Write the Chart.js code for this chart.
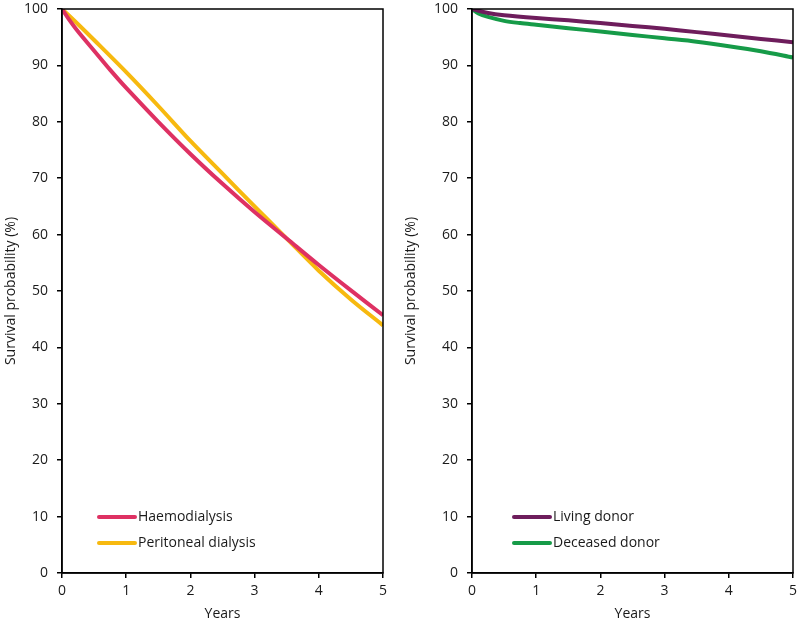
<!DOCTYPE html>
<html>
<head>
<meta charset="utf-8">
<script src="https://cdn.jsdelivr.net/npm/chart.js@4"></script>
<style>
html,body{margin:0;padding:0;background:#fff;}
#wrap{position:relative;width:799px;height:628px;}
.box{position:absolute;top:0;height:628px;}
</style>
</head>
<body>
<div id="wrap">
  <div class="box" style="left:0;width:400px;"><canvas id="c1"></canvas></div>
  <div class="box" style="left:400px;width:399px;"><canvas id="c2"></canvas></div>
</div>
<script>
// Years (x values)
const yearsHD = [0, 0.1, 0.25, 0.5, 0.75, 1, 1.5, 2, 2.5, 3, 3.5, 4, 4.5, 5];
const haemodialysis = [100, 98.3, 96.0, 92.6, 89.2, 86.0, 80.0, 74.3, 69.0, 64.0, 59.3, 54.6, 50.1, 45.7];
const yearsPD = [0, 0.25, 0.5, 1, 1.5, 2, 2.5, 3, 3.5, 4, 4.5, 5];
const peritoneal = [100, 97.3, 94.5, 88.8, 82.8, 76.6, 70.8, 65.0, 59.3, 53.6, 48.5, 43.9];

const yearsLD = [0, 0.25, 0.5, 1, 1.5, 2, 2.5, 3, 3.5, 4, 4.5, 5];
const livingDonor = [100, 99.3, 98.9, 98.4, 98.0, 97.5, 97.0, 96.5, 95.9, 95.3, 94.7, 94.1];
const yearsDD = [0, 0.1, 0.25, 0.5, 0.75, 1, 1.5, 2, 2.5, 3, 3.5, 4, 4.5, 5];
const deceasedDonor = [100, 99.2, 98.6, 97.9, 97.5, 97.2, 96.6, 96.0, 95.4, 94.8, 94.2, 93.4, 92.5, 91.4];

const xTicks = [0, 1, 2, 3, 4, 5];
const yTicks = [0, 10, 20, 30, 40, 50, 60, 70, 80, 90, 100];
const xTitle = 'Years';
const yTitle = 'Survival probability (%)';

const FONT = 'Open Sans';
const TXT = '#1a1a1a';

function pts(xs, ys){ return xs.map((x,i)=>({x:x,y:ys[i]})); }

const framePlugin = {
  id:'frame',
  afterDraw(chart){
    const a = chart.chartArea, ctx = chart.ctx;
    ctx.save();
    ctx.strokeStyle = '#000';
    ctx.lineWidth = 1.5;
    ctx.strokeRect(a.left, a.top, a.right-a.left, a.bottom-a.top);
    ctx.restore();
  }
};

const legendPlugin = {
  id:'inlegend',
  afterDatasetsDraw(chart, args, opts){
    const ctx = chart.ctx;
    ctx.save();
    ctx.font = '14px "' + FONT + '"';
    ctx.textBaseline = 'middle';
    chart.data.datasets.forEach((ds,i)=>{
      const y = opts.y + i*opts.gap;
      ctx.strokeStyle = ds.borderColor;
      ctx.lineWidth = 4;
      ctx.lineCap = 'round';
      ctx.beginPath();
      ctx.moveTo(opts.x, y);
      ctx.lineTo(opts.x + 36, y);
      ctx.stroke();
      ctx.fillStyle = TXT;
      ctx.fillText(ds.label, opts.x + 39, y);
    });
    ctx.restore();
  }
};

function makeChart(id, datasets, yAxisWidth, padRight, legendX){
  return new Chart(document.getElementById(id), {
    type:'line',
    data:{ datasets: datasets },
    options:{
      responsive:true,
      maintainAspectRatio:false,
      animation:false,
      layout:{ padding:{ left:0, top:9, right:padRight, bottom:0 } },
      elements:{ point:{ radius:0 }, line:{ borderWidth:4, tension:0.3, borderCapStyle:'butt' } },
      plugins:{
        legend:{ display:false },
        tooltip:{ enabled:false },
        inlegend:{ x:legendX, y:517, gap:26 }
      },
      scales:{
        x:{
          type:'linear', min:0, max:5,
          afterBuildTicks(s){ s.ticks = xTicks.map(v=>({value:v})); },
          afterFit(s){ s.height = 55; s.paddingLeft = 0; s.paddingRight = 0; },
          grid:{ display:true, drawOnChartArea:false, drawTicks:true, tickLength:5, color:'#000', lineWidth:1.5 },
          border:{ display:true, color:'#000', width:1.5 },
          ticks:{ color:TXT, font:{ family:FONT, size:14 }, padding:5, maxRotation:0 },
          title:{ display:true, text:xTitle, color:TXT, font:{ family:FONT, size:14 }, padding:{ top:0, bottom:6 } }
        },
        y:{
          type:'linear', min:0, max:100,
          afterBuildTicks(s){ s.ticks = yTicks.map(v=>({value:v})); },
          afterFit(s){ s.width = yAxisWidth; s.paddingTop = 0; s.paddingBottom = 0; },
          grid:{ display:true, drawOnChartArea:false, drawTicks:true, tickLength:5, color:'#000', lineWidth:1.5 },
          border:{ display:true, color:'#000', width:1.5 },
          ticks:{ color:TXT, font:{ family:FONT, size:14 }, padding:9 },
          title:{ display:true, text:yTitle, color:TXT, font:{ family:FONT, size:14 }, padding:{ top:3, bottom:0 } }
        }
      }
    },
    plugins:[framePlugin, legendPlugin]
  });
}

makeChart('c1', [
  { label:'Haemodialysis', data:pts(yearsHD, haemodialysis), borderColor:'#DE3163', backgroundColor:'#DE3163' },
  { label:'Peritoneal dialysis', data:pts(yearsPD, peritoneal), borderColor:'#F7B90F', backgroundColor:'#F7B90F' }
], 62, 17, 99);

makeChart('c2', [
  { label:'Living donor', data:pts(yearsLD, livingDonor), borderColor:'#6E1D5C', backgroundColor:'#6E1D5C' },
  { label:'Deceased donor', data:pts(yearsDD, deceasedDonor), borderColor:'#169B48', backgroundColor:'#169B48' }
], 72, 6, 114);
</script>
</body>
</html>
